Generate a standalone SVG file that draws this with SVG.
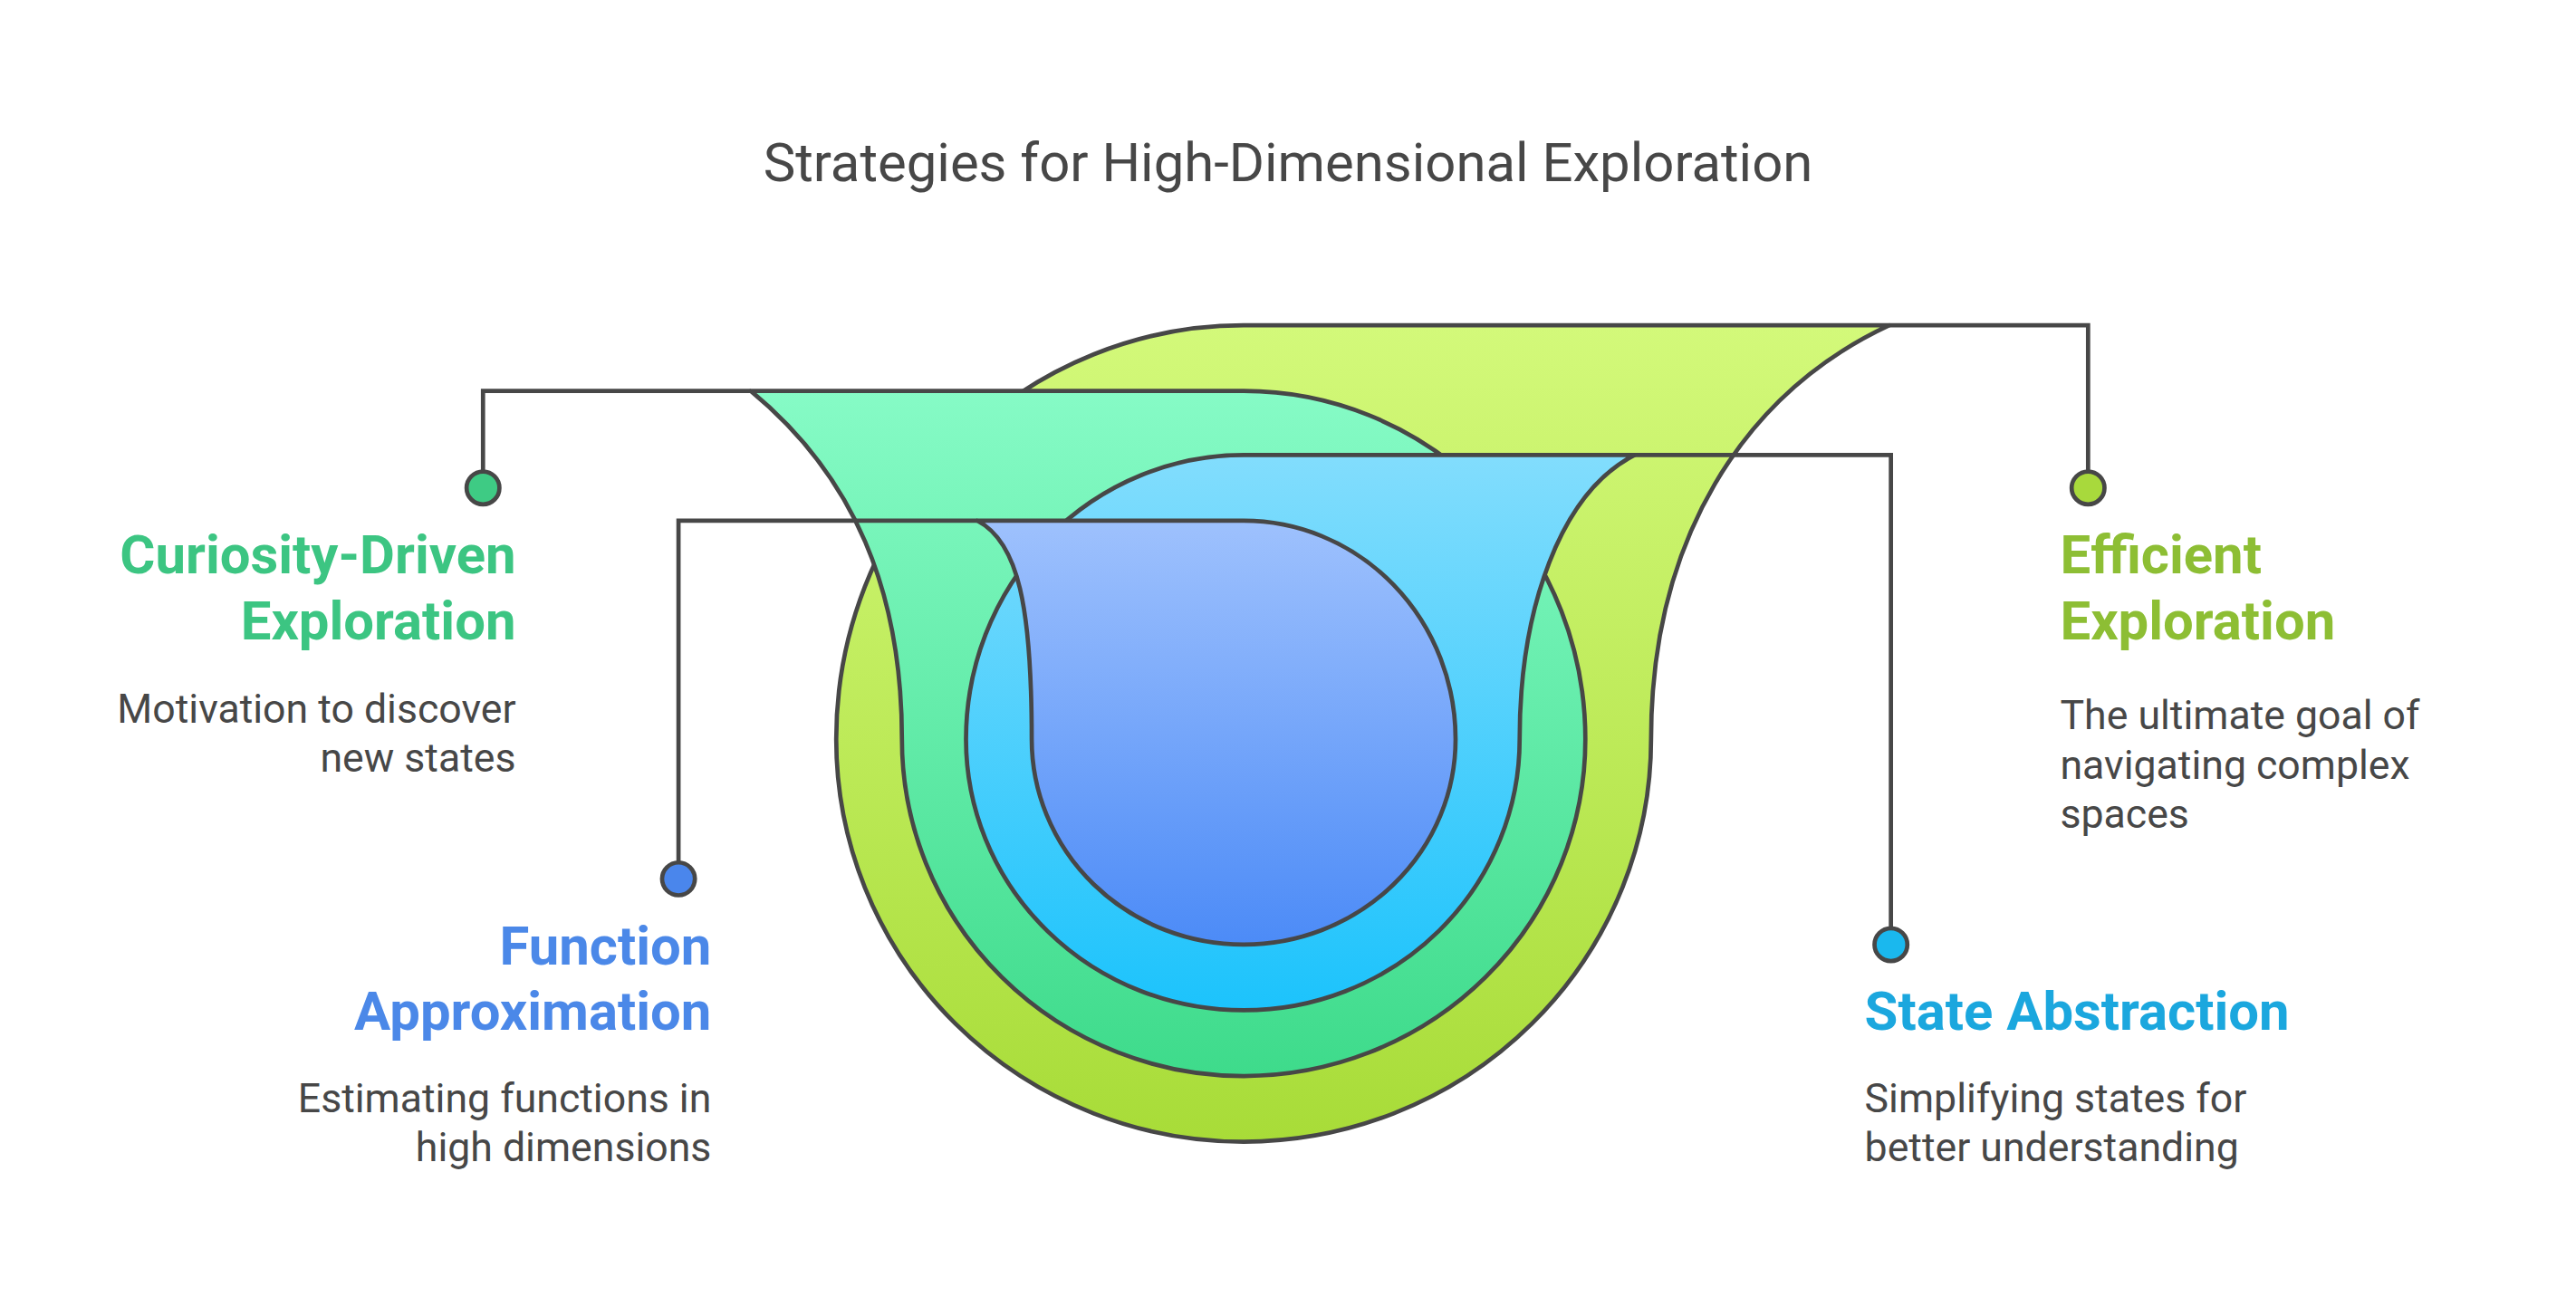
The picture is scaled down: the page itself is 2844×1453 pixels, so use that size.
<svg xmlns="http://www.w3.org/2000/svg" width="2844" height="1453" viewBox="0 0 2844 1453">
<defs>
<linearGradient id="gL" x1="0" y1="0" x2="0" y2="1"><stop offset="0" stop-color="#d3f97a"/><stop offset="1" stop-color="#a8dc38"/></linearGradient>
<linearGradient id="gG" x1="0" y1="0" x2="0" y2="1"><stop offset="0" stop-color="#86fbc6"/><stop offset="1" stop-color="#3edb8b"/></linearGradient>
<linearGradient id="gC" x1="0" y1="0" x2="0" y2="1"><stop offset="0" stop-color="#82ddfd"/><stop offset="1" stop-color="#1cc3fc"/></linearGradient>
<linearGradient id="gB" x1="0" y1="0" x2="0" y2="1"><stop offset="0" stop-color="#9ec1fd"/><stop offset="1" stop-color="#4c8bf7"/></linearGradient>
<style>
.s{stroke:#474747;stroke-width:2.6;stroke-linejoin:round}
.c{fill:none;stroke:#474747;stroke-width:2.6}
.t{font-family:Roboto,"Liberation Sans",sans-serif}
.h{font-size:33px;font-weight:bold}
.d{font-size:24.6px;fill:#474747}
</style>
</defs>
<rect width="2844" height="1453" fill="#fff"/>
<g transform="scale(1.81378)">
<text class="t" x="784" y="110" text-anchor="middle" font-size="33" fill="#474747">Strategies for High-Dimensional Exploration</text>
<g id="efficient-shape"><path class="s" fill="url(#gL)" d="M757,198 H1150 C1060,240 1005,330 1005,450 A248,245 0 0 1 757,695 A248,245 0 0 1 509,450 A248,252 0 0 1 757,198 Z"/></g>
<g id="curiosity-shape"><path class="s" fill="url(#gG)" d="M457,238 H757 A208,212 0 0 1 965,450 A208,205 0 0 1 757,655 A208,205 0 0 1 549,450 C549,360 520,290 457,238 Z"/></g>
<g id="state-shape"><path class="s" fill="url(#gC)" d="M757,277 H995 C950,300 925,370 925,450 A168,165 0 0 1 757,615 A169,165 0 0 1 588,450 A169,173 0 0 1 757,277 Z"/></g>
<g id="function-shape"><path class="s" fill="url(#gB)" d="M595,317 H757 A129,133 0 0 1 886,450 A129,125 0 0 1 757,575 A129,125 0 0 1 628,450 C628,370 620,330 595,317 Z"/></g>
<g id="connectors">
<path class="c" d="M1150,198 H1271 V287"/>
<path class="c" d="M457,238 H294 V287"/>
<path class="c" d="M995,277 H1151 V565"/>
<path class="c" d="M595,317 H413 V525"/>
<circle class="s" cx="1271" cy="297" r="10" fill="#a8d93c"/>
<circle class="s" cx="294" cy="297" r="10" fill="#3ecb84"/>
<circle class="s" cx="1151" cy="575" r="10" fill="#1ab8ee"/>
<circle class="s" cx="413" cy="535" r="10" fill="#4a86ec"/>
</g>
<g id="curiosity" class="t" text-anchor="end">
<text class="h" x="314" y="349" fill="#3cc582">Curiosity-Driven</text>
<text class="h" x="314" y="389" fill="#3cc582">Exploration</text>
<text class="d" x="314" y="440">Motivation to discover</text>
<text class="d" x="314" y="470">new states</text>
</g>
<g id="efficient" class="t">
<text class="h" x="1254" y="349" fill="#8dbe34">Efficient</text>
<text class="h" x="1254" y="389" fill="#8dbe34">Exploration</text>
<text class="d" x="1254" y="444">The ultimate goal of</text>
<text class="d" x="1254" y="474">navigating complex</text>
<text class="d" x="1254" y="504">spaces</text>
</g>
<g id="function" class="t" text-anchor="end">
<text class="h" x="433" y="587" fill="#4b88e8">Function</text>
<text class="h" x="433" y="627" fill="#4b88e8">Approximation</text>
<text class="d" x="433" y="677">Estimating functions in</text>
<text class="d" x="433" y="707">high dimensions</text>
</g>
<g id="state" class="t">
<text class="h" x="1135" y="627" fill="#1ba7de">State Abstraction</text>
<text class="d" x="1135" y="677">Simplifying states for</text>
<text class="d" x="1135" y="707">better understanding</text>
</g>
</g>
</svg>
